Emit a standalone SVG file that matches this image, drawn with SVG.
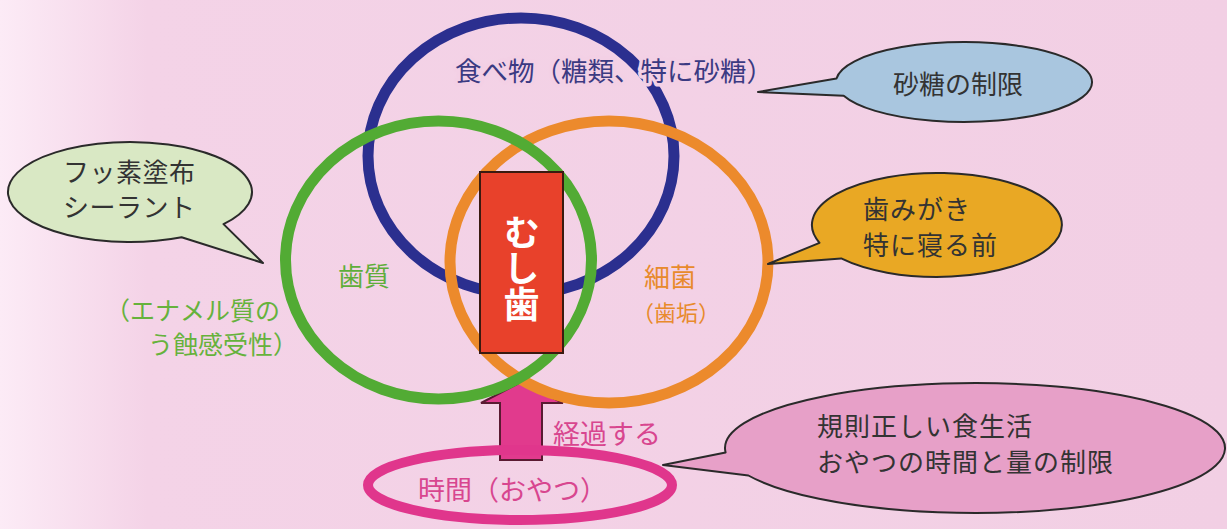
<svg xmlns="http://www.w3.org/2000/svg" width="1227" height="529" viewBox="0 0 1227 529">
  <defs>
    <linearGradient id="bg" x1="0" y1="0" x2="1" y2="0">
      <stop offset="0" stop-color="#fcebf6"/>
      <stop offset="0.12" stop-color="#f4d3e7"/>
      <stop offset="1" stop-color="#f2cfe4"/>
    </linearGradient>
    <style>
      text { font-family: "Noto Sans CJK JP", "Noto Sans", sans-serif; }
      .ring { fill: none; stroke-width: 11; }
      .bubble { stroke: #2a2a2a; stroke-width: 2; stroke-linejoin: round; }
      .btext { fill: #333333; font-size: 26px; }
    </style>
  </defs>

  <rect x="0" y="0" width="1227" height="529" fill="url(#bg)"/>

  <g id="connectors">
    <polygon id="arrow-time" points="521,382 563,403 542,403 542,460 500,460 500,403 481,403" fill="#e13a8d" stroke="#5a1a32" stroke-width="2" stroke-linejoin="miter"/>
  </g>

  <g id="node-food">
    <ellipse class="ring" cx="521" cy="156" rx="153" ry="138" stroke="#2b2f8f"/>
    <text x="455" y="81" font-size="26.5" fill="#3b3a82" stroke="#f3d0e5" stroke-width="7" paint-order="stroke" stroke-linejoin="round">食べ物（糖類、特に砂糖）</text>
  </g>

  <g id="node-bacteria">
    <ellipse class="ring" cx="609" cy="262" rx="159" ry="141" stroke="#ec8a2c"/>
    <text x="670" y="287" font-size="26" fill="#e88a2c" text-anchor="middle">細菌</text>
    <text x="676" y="321" font-size="22" fill="#e88a2c" text-anchor="middle">（歯垢）</text>
  </g>

  <g id="node-tooth">
    <ellipse class="ring" cx="438.5" cy="260" rx="153" ry="139" stroke="#52ab34"/>
    <text x="338" y="286" font-size="26" fill="#5fae3a">歯質</text>
    <text x="105" y="320" font-size="25" fill="#66b23c">（エナメル質の</text>
    <text x="148" y="354" font-size="25" fill="#66b23c">う蝕感受性）</text>
  </g>

  <g id="node-time">
    <ellipse cx="520" cy="485" rx="152" ry="35" fill="none" stroke="#e0368c" stroke-width="10"/>
    <text x="418" y="500" font-size="27" fill="#d8468f">時間（おやつ）</text>
  </g>

  <g id="label-elapsed">
    <text x="553" y="444" font-size="27" fill="#d8468f">経過する</text>
  </g>

  <g id="node-caries">
    <rect x="480" y="172" width="83" height="181" fill="#e8412b" stroke="#3a1a10" stroke-width="2"/>
    <text x="521.5" y="214" font-size="36" font-weight="bold" fill="#ffffff" writing-mode="vertical-rl">むし歯</text>
  </g>

  <g id="bubble-sugar">
    <path class="bubble" fill="#a9c6df" d="M 836.5 78.5 L 758 92 L 843.7 95.7 A 128 40 0 1 0 836.5 78.5 Z"/>
    <text class="btext" x="893" y="94" font-size="27">砂糖の制限</text>
  </g>

  <g id="bubble-brushing">
    <path class="bubble" fill="#e9a824" d="M 819.5 242.8 L 768 264 L 841.2 258.4 A 125 52 0 1 0 819.5 242.8 Z"/>
    <text class="btext" x="863" y="218.5" letter-spacing="1">歯みがき</text>
    <text class="btext" x="863" y="254.5" letter-spacing="1">特に寝る前</text>
  </g>

  <g id="bubble-fluoride">
    <path class="bubble" fill="#d9e8c4" d="M 223.5 224.1 L 263 263 L 181.6 237.3 A 122 50 0 1 1 223.5 224.1 Z"/>
    <text class="btext" x="63" y="182" font-size="25" letter-spacing="0.5">フッ素塗布</text>
    <text class="btext" x="63" y="217" font-size="25" letter-spacing="0.5">シーラント</text>
  </g>

  <g id="bubble-diet">
    <path class="bubble" fill="#e7a0c8" d="M 725.6 452.5 L 663 465 L 748.4 475.5 A 250 65 0 1 0 725.6 452.5 Z"/>
    <text class="btext" x="817" y="435.5" letter-spacing="1">規則正しい食生活</text>
    <text class="btext" x="817" y="471.5" letter-spacing="1">おやつの時間と量の制限</text>
  </g>
</svg>
